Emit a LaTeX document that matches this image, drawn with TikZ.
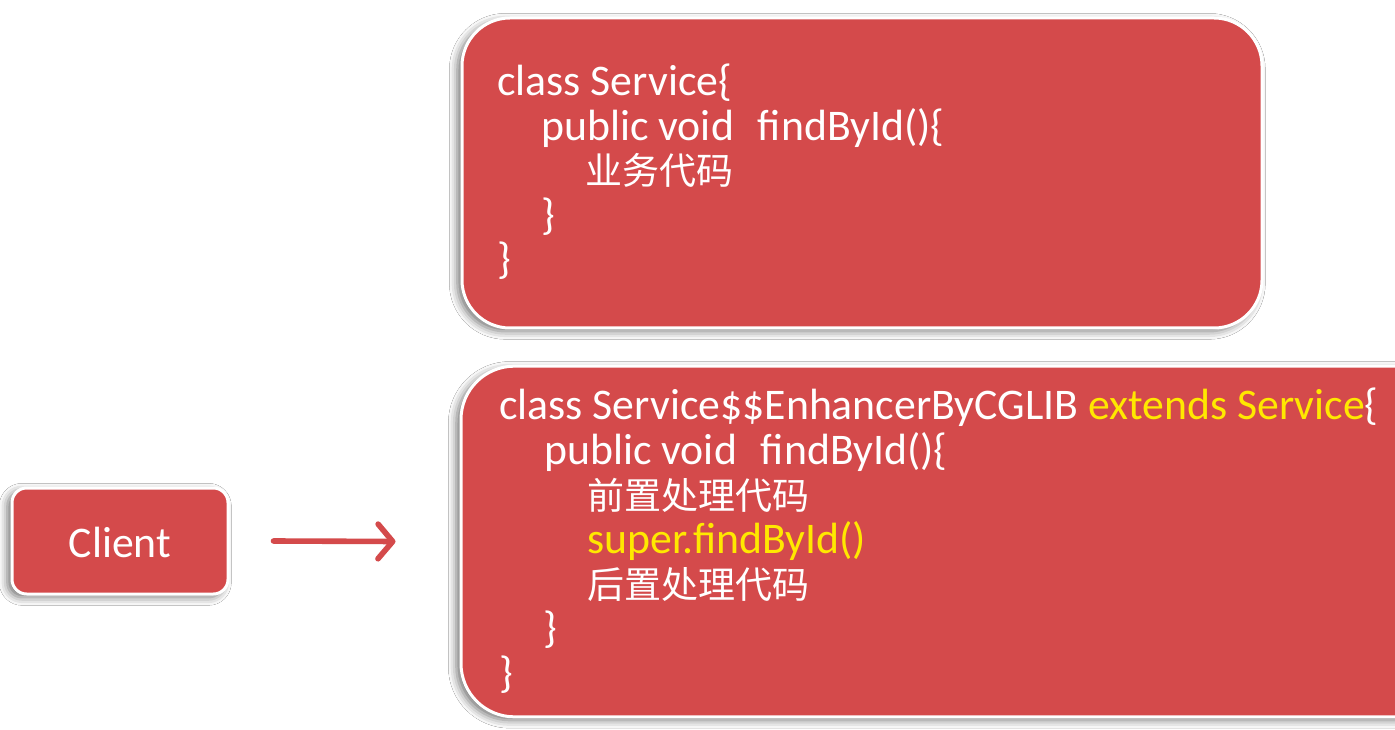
\documentclass[tikz,border=0pt]{standalone}
\usepackage{fontspec}
\setmainfont{Carlito}
\newfontfamily\cjk{Noto Sans CJK SC}
\usetikzlibrary{arrows.meta,shadows.blur}
\definecolor{boxred}{RGB}{212,74,75}
\definecolor{codeyellow}{RGB}{255,232,0}
\newcommand{\cn}[1]{{\cjk\fontsize{27.75pt}{36pt}\selectfont #1}}
\newcommand{\yl}[1]{\textcolor{codeyellow}{#1}}
\tikzset{
  redbox/.style={draw=white, line width=2.25pt, fill=boxred, rounded corners=#1,
    blur shadow={shadow xshift=-3.5pt, shadow yshift=-2.5pt, shadow blur radius=6pt, shadow opacity=55}},
  codeline/.style={anchor=base west, inner sep=0pt, text=white,
    font=\fontsize{32.8pt}{36pt}\selectfont},
  arr/.style={draw=boxred, line width=4.2pt, line cap=round,
    -{Straight Barb[length=11pt,width=26pt,line width=4.2pt,line cap=round,line join=round]}}
}
\begin{document}
\begin{tikzpicture}[x=0.75pt,y=-0.75pt]
\useasboundingbox (0,0) rectangle (1395,730);
\clip (0,0) rectangle (1395,730);
\fill[white] (0,0) rectangle (1395,730);
% boxes
\node (svc) [redbox=36pt, minimum width=600pt, minimum height=232.5pt] at (862,173) {};
\node (proxy) [redbox=40pt, minimum width=780pt, minimum height=263pt] at (981,541.5) {};
\node (client) [redbox=11pt, minimum width=162pt, minimum height=79.5pt] at (120,541) {};
\node (clienttxt) [codeline, anchor=center] at (120,542) {Client};
% arrow
\draw[arr] ([xshift=33pt]client.east) -- ([xshift=-48pt]proxy.west);
% top box code
\node (t1) [codeline] at (497,96) {class Service\{};
\node (t2) [codeline] at (541,140.5) {public void\hspace{0.55em}findById()\{};
\node (t3) [codeline] at (585,185) {\cn{业务代码}};
\node (t4) [codeline] at (541,229.5) {\}};
\node (t5) [codeline] at (497,274) {\}};
% bottom box code
\node (b1) [codeline] at (499,420) {class Service\$\$EnhancerByCGLIB \yl{extends Service}\{};
\node (b2) [codeline] at (544,464.5) {public void\hspace{0.55em}findById()\{};
\node (b3) [codeline] at (587,509) {\cn{前置处理代码}};
\node (b4) [codeline] at (587,553.5) {\yl{super.findById()}};
\node (b5) [codeline] at (587,598) {\cn{后置处理代码}};
\node (b6) [codeline] at (543,642.5) {\}};
\node (b7) [codeline] at (499,687) {\}};
\end{tikzpicture}
\end{document}
